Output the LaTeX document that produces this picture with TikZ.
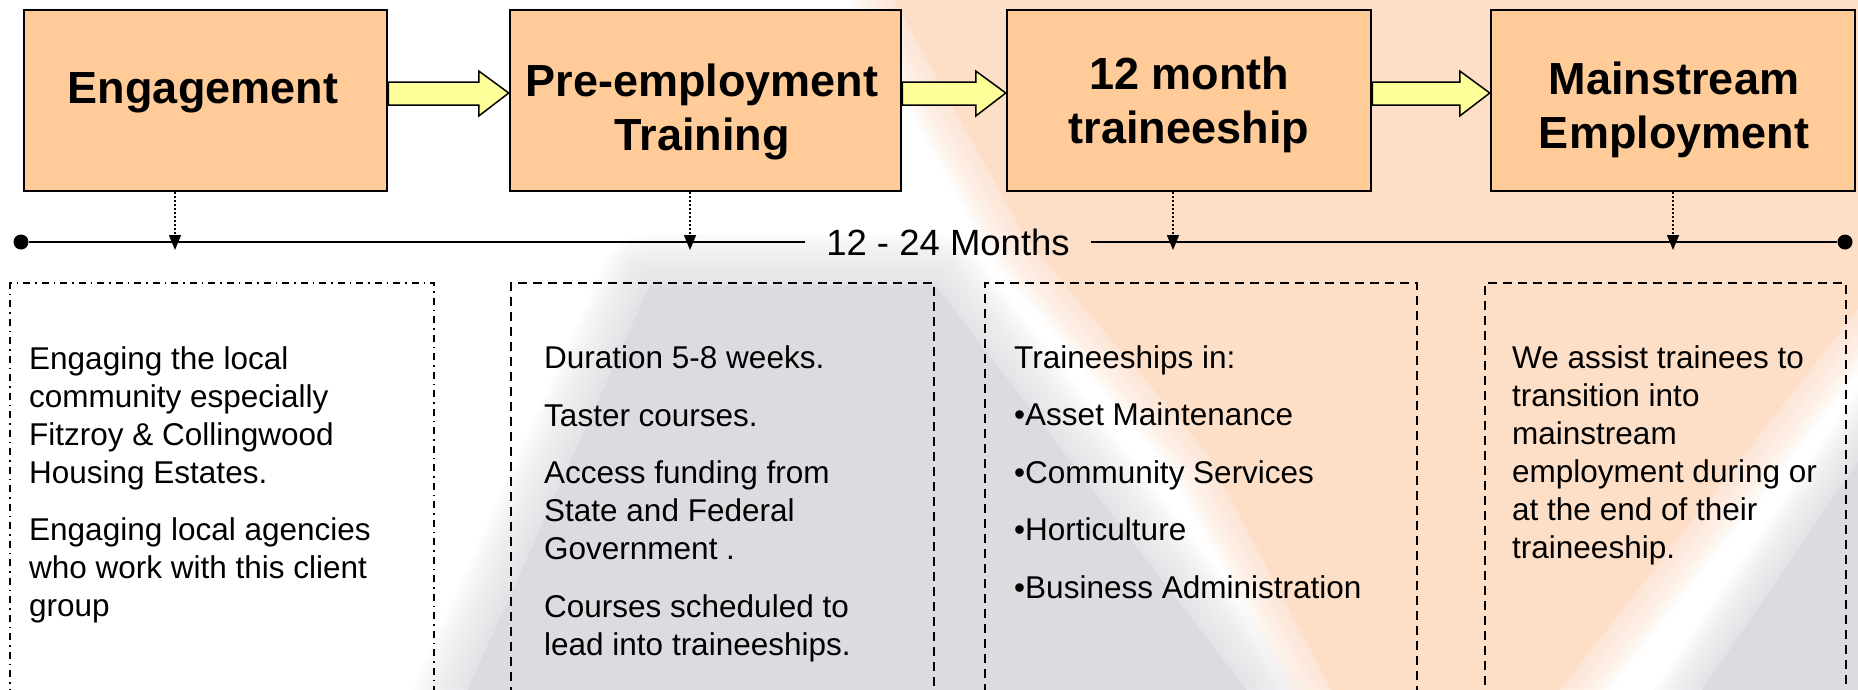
\documentclass[tikz,border=0pt]{standalone}
\usepackage{fontspec}
\setmainfont{Liberation Sans}
\usetikzlibrary{calc,arrows.meta}
\definecolor{boxfill}{RGB}{255,204,153}
\definecolor{arrfill}{RGB}{255,255,153}
\definecolor{peachbg}{RGB}{253,222,199}
\definecolor{greybg}{RGB}{218,220,224}
% soft-edged filled shape: #1 blur width, #2 colour, #3 closed path
\newcommand\softshape[3]{%
  \foreach \f in {1.0,0.9,0.8,0.7,0.6,0.5,0.4,0.3,0.2,0.1}{%
    \draw[#2,line width=\f*#1,opacity=0.1,line join=round] #3;}%
  \fill[#2] #3;}
\newcommand\blockarr[2]{%
  \draw[blockarrow] ($(#1.east)+(0,-18.5)$) -- ($(#2.west)+(-30,-18.5)$) -- ($(#2.west)+(-30,-29.5)$)
    -- ($(#2.west)+(0,-7.5)$) -- ($(#2.west)+(-30,15.5)$) -- ($(#2.west)+(-30,4.5)$)
    -- ($(#1.east)+(0,4.5)$) -- cycle;}
\tikzset{
  stage/.style={draw=black,line width=2.5pt,fill=boxfill,inner sep=0pt,minimum height=181pt},
  title/.style={font=\bfseries\fontsize{45}{54}\selectfont,anchor=base,inner sep=0pt},
  col/.style={font=\fontsize{31.5}{38}\selectfont,anchor=base west,inner sep=0pt},
  panel/.style={draw=black,line width=2pt,anchor=north west,inner sep=0pt,minimum height=430pt},
  panelA/.style={panel,dash pattern=on 7pt off 5pt on 1.5pt off 5pt},
  panelB/.style={panel,dash pattern=on 9pt off 6pt},
  blockarrow/.style={draw=black,line width=1.5pt,fill=arrfill,line join=miter},
  tick/.style={line width=1.5pt,dash pattern=on 1.5pt off 2.5pt,-{Triangle[length=15pt,width=12pt]}},
  timeline/.style={line width=2.5pt},
  enddot/.style={circle,fill=black,inner sep=0pt,minimum size=15pt},
  span/.style={font=\fontsize{36.5}{44}\selectfont,anchor=base,inner ysep=0pt,inner xsep=21pt},
}
\begin{document}
\begin{tikzpicture}[x=1pt,y=-1pt]
\useasboundingbox (0,0) rectangle (1858,689);
\clip (0,0) rectangle (1858,689);
\fill[white] (0,0) rectangle (1858,689);
% background artwork
\softshape{100pt}{greybg}{(650,285) -- (935,285) -- (1285,740) -- (445,740) -- cycle}
\softshape{80pt}{peachbg}{(872,-40) -- (1900,-40) -- (1900,255) -- (1520,740) -- (1358,740) -- (1205,450) -- (1027,240) -- cycle}
\softshape{80pt}{greybg}{(1900,400) -- (1900,740) -- (1668,740) -- cycle}
% dashed panels
\node[panelA,minimum width=424pt] (d1) at (9,282) {};
\node[panelB,minimum width=423pt] (d2) at (510,282) {};
\node[panelB,minimum width=432pt] (d3) at (984,282) {};
\node[panelB,minimum width=361pt] (d4) at (1484,282) {};
% panel texts
\node[col] (c1) at (29,369) {\begin{tabular}[t]{@{}l@{}}Engaging the local\\ community especially\\ Fitzroy \& Collingwood\\ Housing Estates.\\[19pt] Engaging local agencies\\ who work with this client\\ group\end{tabular}};
\node[col] (c2) at (544,368) {\begin{tabular}[t]{@{}l@{}}Duration 5-8 weeks.\\[20pt] Taster courses.\\[19pt] Access funding from\\ State and Federal\\ Government .\\[20pt] Courses scheduled to\\ lead into traineeships.\end{tabular}};
\node[col] (c3) at (1014,368) {\begin{tabular}[t]{@{}l@{}}Traineeships in:\\[19.5pt] •Asset Maintenance\\[19.5pt] •Community Services\\[19.5pt] •Horticulture\\[19.5pt] •Business Administration\end{tabular}};
\node[col] (c4) at (1512,368) {\begin{tabular}[t]{@{}l@{}}We assist trainees to\\ transition into\\ mainstream\\ employment during or\\ at the end of their\\ traineeship.\end{tabular}};
% timeline
\node[enddot] (L) at (21,242) {};
\node[enddot] (R) at (1845,242) {};
\node[span] (lab) at (948,255) {12 - 24 Months};
\draw[timeline] (L) -- (lab.west |- L);
\draw[timeline] (lab.east |- R) -- (R);
\coordinate (a1) at (175,242);
\coordinate (a2) at (690,242);
\coordinate (a3) at (1173,242);
\coordinate (a4) at (1673,242);
% stage boxes
\node[stage,minimum width=363pt] (b1) at (205.5,100.5) {};
\node[stage,minimum width=391pt] (b2) at (705.5,100.5) {};
\node[stage,minimum width=364pt] (b3) at (1189,100.5) {};
\node[stage,minimum width=364pt] (b4) at (1673,100.5) {};
\node[title] (t1) at (203,103) {Engagement};
\node[title] (t2) at (702,96) {\begin{tabular}[t]{@{}c@{}}Pre-employment\\ Training\end{tabular}};
\node[title] (t3) at (1189,89) {\begin{tabular}[t]{@{}c@{}}12 month\\ traineeship\end{tabular}};
\node[title] (t4) at (1674,94) {\begin{tabular}[t]{@{}c@{}}Mainstream\\ Employment\end{tabular}};
% ticks from boxes to timeline
\draw[tick] (b1.south -| a1) -- ($(a1)+(0,8)$);
\draw[tick] (b2.south -| a2) -- ($(a2)+(0,8)$);
\draw[tick] (b3.south -| a3) -- ($(a3)+(0,8)$);
\draw[tick] (b4.south -| a4) -- ($(a4)+(0,8)$);
% block arrows
\blockarr{b1}{b2}
\blockarr{b2}{b3}
\blockarr{b3}{b4}
\end{tikzpicture}
\end{document}
